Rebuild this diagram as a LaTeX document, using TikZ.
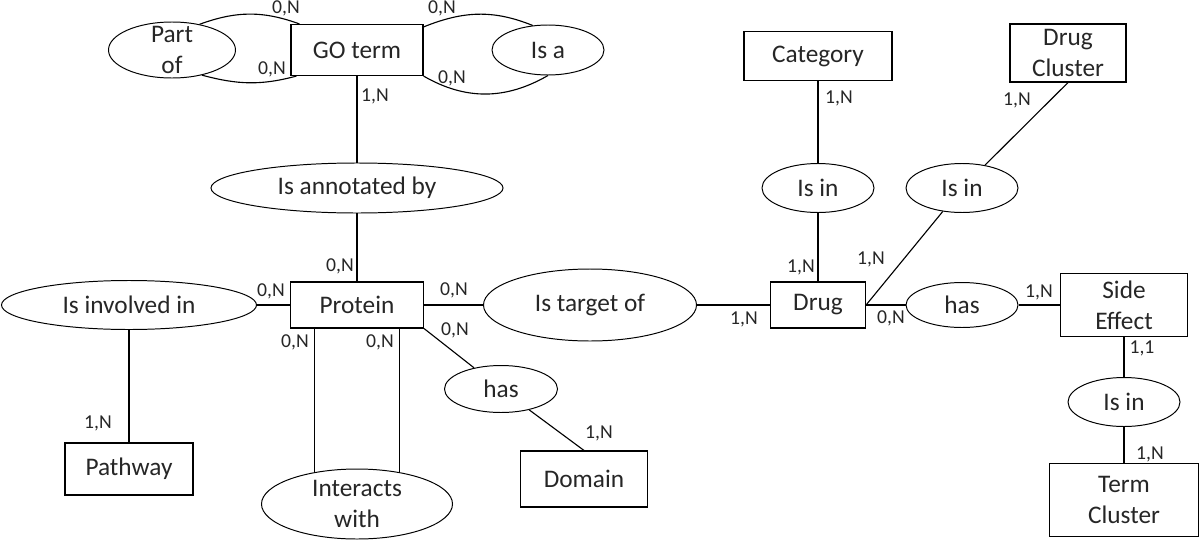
\documentclass[tikz,border=0pt]{standalone}
\usepackage{fontspec}
\setmainfont{Carlito}
\usetikzlibrary{
  positioning,
  shapes.geometric
}

\begin{document}
\begin{tikzpicture}[
  on grid,
  font=\fontsize{18}{22}\selectfont,
  entity/.style={
    draw,
    line width=0.8pt,
    rectangle,
    inner sep=0pt,
    align=center,
    text=black!85
  },
  relation/.style={
    draw,
    line width=0.7pt,
    ellipse,
    inner sep=0pt,
    align=center,
    text=black!85
  },
  card/.style={
    font=\fontsize{14}{16}\selectfont,
    inner sep=0pt,
    text=black!85
  },
  link/.style={line width=0.8pt}
]
\useasboundingbox (0,0) rectangle (30,13.525);

% Entities and relationships around Protein
\node[entity, minimum width=3.325cm, minimum height=1.15cm] (protein) at (8.925,5.9) {Protein};
\node[relation, minimum width=7.3cm, minimum height=1.25cm, above=2.925cm of protein] (annotated) {Is annotated by};
\node[entity, minimum width=3.3cm, minimum height=1.275cm, above=3.45cm of annotated] (goterm) {GO term};
\node[relation, minimum width=3.175cm, minimum height=1.4cm, inner ysep=-4pt, left=4.625cm of goterm] (partof) {Part\\of};
\node[relation, minimum width=2.8cm, minimum height=1.25cm, right=4.775cm of goterm] (isa) {Is a};
\node[relation, minimum width=6.375cm, minimum height=1.225cm, left=5.7cm of protein] (involved) {Is involved in};
\node[entity, minimum width=3.2cm, minimum height=1.3cm, below=4.1cm of involved] (pathway) {Pathway};
\node[relation, minimum width=4.775cm, minimum height=1.75cm, inner ysep=-2pt, below=4.975cm of protein] (interacts) {Interacts\\with};
\node[relation, minimum width=2.825cm, minimum height=1.175cm, below right=2.1cm and 3.6cm of protein] (hasdomain) {has};
\node[entity, minimum width=3.175cm, minimum height=1.4cm, below right=2.25cm and 2.075cm of hasdomain] (domain) {Domain};
\node[relation, minimum width=5.325cm, minimum height=1.8cm, right=5.825cm of protein] (target) {Is target of};

% Entities and relationships around Drug
\node[entity, minimum width=2.375cm, minimum height=1.15cm, right=5.7cm of target] (drug) {Drug};
\node[relation, minimum width=2.8cm, minimum height=1.225cm, above=2.925cm of drug] (isincat) {Is in};
\node[entity, minimum width=3.7cm, minimum height=1.225cm, above=3.3cm of isincat] (category) {Category};
\node[relation, minimum width=2.8cm, minimum height=1.125cm, right=3.6cm of drug] (hasside) {has};
\node[relation, minimum width=2.8cm, minimum height=1.225cm, above=2.925cm of hasside] (isinclust) {Is in};
\node[entity, minimum width=2.9cm, minimum height=1.45cm, above right=3.375cm and 2.65cm of isinclust] (drugcluster) {Drug\\Cluster};
\node[entity, minimum width=3.175cm, minimum height=1.575cm, right=4.05cm of hasside] (sideeffect) {Side\\Effect};
\node[relation, minimum width=2.8cm, minimum height=1.225cm, below=2.425cm of sideeffect] (isinterm) {Is in};
\node[entity, minimum width=3.725cm, minimum height=1.825cm, below=2.45cm of isinterm] (termcluster) {Term\\Cluster};

% Lines
\draw[link] ([xshift=0.225cm]goterm.north west) to[out=160, in=20] (partof.43);
\draw[link] ([xshift=0.15cm]goterm.south west) to[out=-165, in=-15] (partof.-40);
\draw[link] ([yshift=-0.075cm]goterm.north east) to[out=22, in=158] (isa.122);
\draw[link] (goterm.south east) to[out=-30, in=-150] (isa.south);
\draw[link] (goterm) -- (annotated);
\draw[link] (annotated) -- (protein);
\draw[link] (involved) -- (protein);
\draw[link] (involved) -- (pathway);
\draw[link] (interacts.143 |- protein.south) -- (interacts.143);
\draw[link] (interacts.37 |- protein.south) -- (interacts.37);
\draw[link] (protein) -- (target);
\draw[link] (protein.south east) -- (hasdomain);
\draw[link] (hasdomain) -- (domain.north);
\draw[link] (target) -- (drug);
\draw[link] (category) -- (isincat);
\draw[link] (isincat) -- (drug);
\draw[link] (drug.east) -- (isinclust);
\draw[link] (isinclust) -- (drugcluster.south);
\draw[link] (drug) -- (hasside);
\draw[link] (hasside) -- (sideeffect);
\draw[link] (sideeffect) -- (isinterm);
\draw[link] (isinterm) -- (termcluster);

% Cardinalities
\node[card] (c1) at (7.15,13.325) {0,N};
\node[card] (c2) at (6.8,11.8) {0,N};
\node[card] (c3) at (11.05,13.325) {0,N};
\node[card] (c4) at (11.3,11.575) {0,N};
\node[card] (c5) at (9.375,11.125) {1,N};
\node[card] (c6) at (8.5,6.875) {0,N};
\node[card] (c7) at (6.775,6.25) {0,N};
\node[card] (c8) at (2.45,2.95) {1,N};
\node[card] (c9) at (7.375,4.975) {0,N};
\node[card] (c10) at (9.5,4.975) {0,N};
\node[card] (c11) at (11.35,6.275) {0,N};
\node[card] (c12) at (11.375,5.275) {0,N};
\node[card] (c13) at (14.975,2.7) {1,N};
\node[card] (c14) at (18.6,5.55) {1,N};
\node[card] (c15) at (20.025,6.85) {1,N};
\node[card] (c16) at (20.975,11.075) {1,N};
\node[card] (c17) at (25.425,11.025) {1,N};
\node[card] (c18) at (21.775,7.05) {1,N};
\node[card] (c19) at (22.275,5.575) {0,N};
\node[card] (c20) at (25.975,6.225) {1,N};
\node[card] (c21) at (28.55,4.825) {1,1};
\node[card] (c22) at (28.75,2.175) {1,N};

\end{tikzpicture}
\end{document}
